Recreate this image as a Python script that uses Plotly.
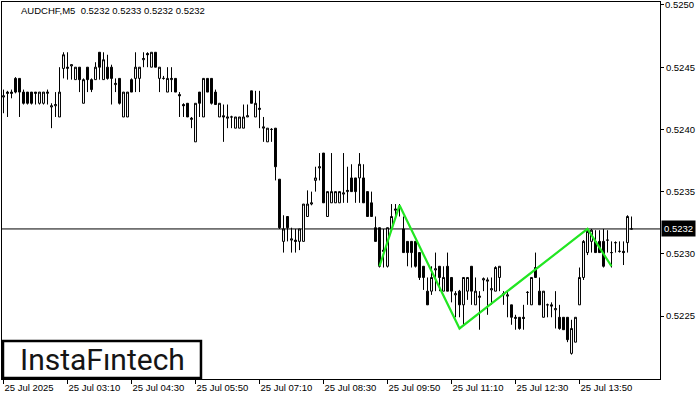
import plotly.graph_objects as go

# ---- data (AUDCHF M5, bar index 0 = 25 Jul 01:50) ----
opens = [
0.52426,0.52430,0.52430,0.52441,0.52441,0.52430,0.52430,0.52430,0.52430,0.52421,
0.52421,0.52429,0.52418,0.52419,0.52410,0.52449,0.52449,0.52451,0.52440,0.52450,
0.52421,0.52450,0.52440,0.52440,0.52462,0.52440,0.52450,0.52450,0.52436,0.52441,
0.52410,0.52410,0.52440,0.52441,0.52441,0.52456,0.52461,0.52450,0.52462,0.52441,
0.52441,0.52430,0.52440,0.52441,0.52428,0.52420,0.52421,0.52408,0.52390,0.52430,
0.52410,0.52441,0.52441,0.52430,0.52410,0.52411,0.52409,0.52410,0.52401,0.52401,
0.52401,0.52410,0.52431,0.52410,0.52416,0.52401,0.52390,0.52400,0.52401,0.52360,
0.52310,0.52330,0.52311,0.52311,0.52310,0.52310,0.52330,0.52340,0.52359,0.52369,
0.52381,0.52330,0.52341,0.52341,0.52341,0.52348,0.52350,0.52361,0.52361,0.52361,
0.52361,0.52350,0.52341,0.52321,0.52321,0.52303,0.52290,0.52320,0.52335,0.52337,
0.52320,0.52310,0.52310,0.52310,0.52301,0.52290,0.52270,0.52270,0.52287,0.52290,
0.52270,0.52290,0.52281,0.52267,0.52270,0.52259,0.52270,0.52290,0.52259,0.52265,
0.52279,0.52278,0.52271,0.52270,0.52281,0.52267,0.52266,0.52259,0.52248,0.52249,
0.52249,0.52269,0.52259,0.52289,0.52270,0.52249,0.52259,0.52259,0.52255,0.52249,
0.52249,0.52249,0.52220,0.52229,0.52259,0.52281,0.52301,0.52310,0.52310,0.52310,
0.52310,0.52311,0.52301,0.52309,0.52302,0.52302,0.52309,0.52320]
highs = [
0.52432,0.52431,0.52432,0.52442,0.52441,0.52432,0.52430,0.52430,0.52430,0.52430,
0.52430,0.52432,0.52421,0.52430,0.52450,0.52462,0.52462,0.52452,0.52450,0.52450,
0.52441,0.52450,0.52441,0.52454,0.52462,0.52462,0.52460,0.52452,0.52441,0.52441,
0.52430,0.52430,0.52441,0.52462,0.52450,0.52462,0.52462,0.52462,0.52462,0.52450,
0.52443,0.52450,0.52450,0.52441,0.52430,0.52421,0.52421,0.52410,0.52421,0.52430,
0.52441,0.52441,0.52441,0.52432,0.52421,0.52420,0.52420,0.52411,0.52410,0.52410,
0.52420,0.52420,0.52431,0.52431,0.52431,0.52410,0.52401,0.52401,0.52401,0.52360,
0.52331,0.52330,0.52321,0.52320,0.52320,0.52340,0.52351,0.52350,0.52370,0.52381,
0.52381,0.52350,0.52381,0.52350,0.52350,0.52381,0.52370,0.52372,0.52361,0.52381,
0.52372,0.52350,0.52350,0.52330,0.52321,0.52320,0.52321,0.52340,0.52340,0.52340,
0.52330,0.52310,0.52310,0.52310,0.52301,0.52290,0.52281,0.52290,0.52301,0.52290,
0.52290,0.52301,0.52281,0.52270,0.52271,0.52281,0.52281,0.52290,0.52281,0.52270,
0.52281,0.52281,0.52281,0.52290,0.52290,0.52270,0.52270,0.52259,0.52251,0.52249,
0.52259,0.52270,0.52281,0.52301,0.52281,0.52270,0.52260,0.52261,0.52270,0.52259,
0.52249,0.52249,0.52247,0.52249,0.52289,0.52311,0.52320,0.52320,0.52319,0.52319,
0.52320,0.52319,0.52310,0.52310,0.52310,0.52310,0.52331,0.52330]
lows = [
0.52413,0.52410,0.52425,0.52429,0.52410,0.52420,0.52420,0.52420,0.52420,0.52420,
0.52420,0.52420,0.52401,0.52410,0.52410,0.52441,0.52440,0.52440,0.52440,0.52430,
0.52421,0.52430,0.52430,0.52440,0.52440,0.52440,0.52440,0.52420,0.52430,0.52420,
0.52410,0.52410,0.52430,0.52430,0.52430,0.52450,0.52450,0.52450,0.52450,0.52430,
0.52440,0.52430,0.52430,0.52430,0.52410,0.52410,0.52410,0.52401,0.52390,0.52410,
0.52410,0.52430,0.52420,0.52420,0.52410,0.52390,0.52401,0.52401,0.52401,0.52401,
0.52401,0.52410,0.52421,0.52410,0.52401,0.52390,0.52390,0.52390,0.52359,0.52320,
0.52301,0.52310,0.52301,0.52301,0.52303,0.52310,0.52330,0.52339,0.52350,0.52359,
0.52341,0.52330,0.52341,0.52341,0.52341,0.52341,0.52341,0.52350,0.52341,0.52341,
0.52341,0.52330,0.52330,0.52310,0.52289,0.52289,0.52289,0.52319,0.52330,0.52330,
0.52301,0.52290,0.52289,0.52289,0.52279,0.52271,0.52259,0.52267,0.52270,0.52270,
0.52270,0.52270,0.52261,0.52249,0.52249,0.52243,0.52263,0.52259,0.52259,0.52239,
0.52270,0.52251,0.52259,0.52270,0.52270,0.52259,0.52249,0.52243,0.52239,0.52239,
0.52239,0.52259,0.52259,0.52281,0.52259,0.52249,0.52249,0.52249,0.52240,0.52239,
0.52239,0.52229,0.52219,0.52229,0.52259,0.52279,0.52299,0.52301,0.52301,0.52301,
0.52289,0.52301,0.52289,0.52301,0.52301,0.52291,0.52301,0.52320]
closes = [
0.52427,0.52429,0.52429,0.52430,0.52430,0.52421,0.52421,0.52421,0.52429,0.52430,
0.52430,0.52430,0.52419,0.52420,0.52430,0.52460,0.52450,0.52452,0.52450,0.52440,
0.52440,0.52440,0.52432,0.52450,0.52450,0.52456,0.52441,0.52441,0.52437,0.52421,
0.52430,0.52430,0.52430,0.52450,0.52450,0.52457,0.52460,0.52462,0.52450,0.52450,
0.52441,0.52441,0.52441,0.52430,0.52427,0.52419,0.52410,0.52409,0.52421,0.52421,
0.52441,0.52430,0.52421,0.52420,0.52421,0.52410,0.52410,0.52410,0.52410,0.52410,
0.52410,0.52411,0.52421,0.52421,0.52417,0.52402,0.52401,0.52400,0.52370,0.52321,
0.52320,0.52321,0.52312,0.52310,0.52320,0.52340,0.52340,0.52341,0.52361,0.52370,
0.52341,0.52350,0.52350,0.52350,0.52350,0.52349,0.52351,0.52350,0.52350,0.52372,
0.52341,0.52330,0.52330,0.52310,0.52290,0.52302,0.52321,0.52330,0.52336,0.52337,
0.52301,0.52301,0.52301,0.52290,0.52281,0.52281,0.52259,0.52281,0.52288,0.52281,
0.52281,0.52270,0.52270,0.52268,0.52259,0.52281,0.52281,0.52270,0.52270,0.52266,
0.52280,0.52279,0.52272,0.52289,0.52290,0.52268,0.52267,0.52249,0.52249,0.52240,
0.52248,0.52269,0.52281,0.52281,0.52259,0.52270,0.52259,0.52258,0.52256,0.52240,
0.52239,0.52231,0.52240,0.52249,0.52281,0.52310,0.52318,0.52319,0.52301,0.52301,
0.52290,0.52311,0.52301,0.52309,0.52302,0.52301,0.52330,0.52320]
bars = list(range(len(opens)))

tick_bars = [0, 16, 32, 48, 64, 80, 96, 112, 128, 144]
tick_labels = ["25 Jul 2025", "25 Jul 03:10", "25 Jul 04:30", "25 Jul 05:50",
               "25 Jul 07:10", "25 Jul 08:30", "25 Jul 09:50", "25 Jul 11:10",
               "25 Jul 12:30", "25 Jul 13:50"]
price_ticks = [0.5225, 0.5230, 0.5235, 0.5240, 0.5245, 0.5250]
price_labels = ["0.5225", "0.5230", "0.5235", "0.5240", "0.5245", "0.5250"]

pattern_bars = [94, 99, 114, 146, 152]
pattern_prices = [0.52290, 0.52339, 0.52240, 0.52320, 0.52290]

bid = 0.5232
title_text = "AUDCHF,M5\u00a0\u00a00.5232 0.5233 0.5232 0.5232"

FONT = "Liberation Sans, Arial, sans-serif"

fig = go.Figure()
fig.add_trace(go.Candlestick(
    x=bars, open=opens, high=highs, low=lows, close=closes,
    increasing=dict(line=dict(color="black", width=1), fillcolor="white"),
    decreasing=dict(line=dict(color="black", width=1), fillcolor="black"),
    whiskerwidth=0, hoverinfo="skip", showlegend=False,
))
fig.add_trace(go.Scatter(
    x=pattern_bars, y=pattern_prices, mode="lines",
    line=dict(color="#22e622", width=2.2), hoverinfo="skip", showlegend=False,
))

fig.add_shape(type="line", xref="paper", x0=0, x1=1, yref="y", y0=bid, y1=bid,
              line=dict(color="black", width=1), layer="below")

# logo box
fig.add_shape(type="rect", xref="paper", yref="paper",
              x0=0.0015, x1=0.3024, y0=0.0027, y1=0.1008,
              line=dict(color="black", width=2.5), fillcolor="white", layer="above")
fig.add_annotation(xref="paper", yref="paper", x=0.152, y=0.052,
                   text="InstaF\u0131ntech", showarrow=False,
                   font=dict(family="Roboto", size=30, color="#151515"),
                   xanchor="center", yanchor="middle")

fig.add_annotation(xref="paper", yref="paper", x=0.0258, y=0.977,
                   text=title_text, showarrow=False,
                   font=dict(family=FONT, size=9.5, color="black"),
                   xanchor="left", yanchor="middle")

fig.add_annotation(xref="paper", yref="y", x=1, y=bid, xanchor="left", xshift=1,
                   text="0.5232", showarrow=False, bgcolor="black", borderpad=2,
                   font=dict(family=FONT, size=9.5, color="white"))

# top price label (axis drops labels that touch the plot edge)
axis_texts = price_labels[:-1] + [""]
fig.add_annotation(xref="paper", yref="y", x=1, y=price_ticks[-1], xanchor="left",
                   yanchor="middle", xshift=3, text=price_labels[-1], showarrow=False,
                   font=dict(family=FONT, size=9.5, color="black"))

fig.update_layout(
    width=700, height=400,
    margin=dict(l=2, r=40, t=2, b=21, autoexpand=False),
    paper_bgcolor="white", plot_bgcolor="white",
    showlegend=False,
    xaxis=dict(
        range=[-0.375, 164.125], rangeslider=dict(visible=False),
        showgrid=False, zeroline=False,
        showline=True, mirror=True, linecolor="black", linewidth=1,
        tickmode="array", tickvals=tick_bars, ticktext=tick_labels,
        ticks="outside", ticklen=4, tickcolor="black", tickwidth=1,
        ticklabelposition="outside right",
        tickfont=dict(family=FONT, size=9.5, color="black"),
    ),
    yaxis=dict(
        range=[0.521994, 0.525024], side="right",
        showgrid=False, zeroline=False,
        showline=True, mirror=True, linecolor="black", linewidth=1,
        tickmode="array", tickvals=price_ticks, ticktext=axis_texts,
        ticks="outside", ticklen=3, tickcolor="black", tickwidth=1,
        tickfont=dict(family=FONT, size=9.5, color="black"),
    ),
)

fig.write_html("out.html",
               config={"displayModeBar": False},
               post_script="document.body.style.margin='0';document.body.style.overflow='hidden';")
